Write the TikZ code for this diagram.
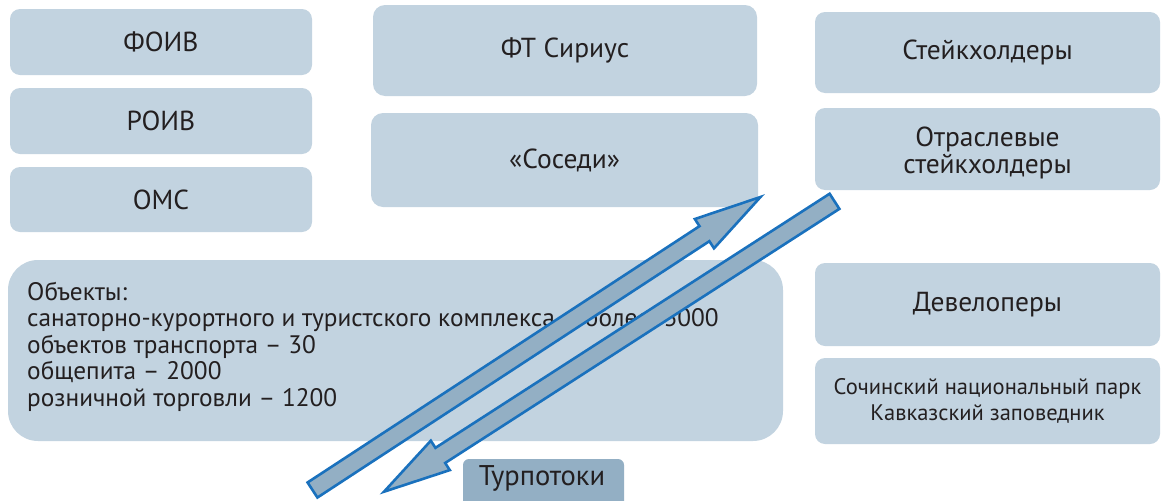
\documentclass[tikz,border=0pt]{standalone}
\usepackage{fontspec}
\setmainfont{PT Sans}
\usetikzlibrary{calc}
\definecolor{boxfill}{HTML}{C2D3E0}
\definecolor{darkfill}{HTML}{93AFC4}
\definecolor{txt}{HTML}{231F20}
\definecolor{arrline}{HTML}{1A71BD}
\tikzset{
  box/.style={fill=boxfill, draw=none, rounded corners=10pt, text=txt, align=center,
    font=\fontsize{27.5}{27}\selectfont, inner sep=0pt},
  smallbox/.style={box, font=\fontsize{22.5}{26}\selectfont},
  flowarr/.style={fill=darkfill, draw=arrline, line width=2.6pt, line join=miter},
}
\newcommand\flowarrow[2]{%
  \coordinate (hb) at ($(#2)!67pt!(#1)$);
  \draw[flowarr] ($(#1)!9pt!90:(#2)$) -- ($(hb)!9pt!90:(#2)$) -- ($(hb)!17.5pt!90:(#2)$)
    -- (#2) -- ($(hb)!17.5pt!-90:(#2)$) -- ($(hb)!9pt!-90:(#2)$) -- ($(#1)!9pt!-90:(#2)$) -- cycle;
}
\begin{document}
\begin{tikzpicture}[x=1pt,y=-1pt]
\useasboundingbox[fill=white] (0,0) rectangle (1163,501);
% left column
\node[box, minimum width=302pt, minimum height=66pt] (foiv) at (161,42) {ФОИВ};
\node[box, minimum width=302pt, minimum height=66pt] (roiv) at (161,121) {РОИВ};
\node[box, minimum width=302pt, minimum height=65pt] (oms) at (161,199.5) {ОМС};
% middle column
\node[box, rounded corners=12pt, minimum width=384pt, minimum height=91pt] (sirius) at (565,50.5) {ФТ Сириус};
\node[box, rounded corners=12pt, minimum width=387pt, minimum height=94pt] (sosedi) at (564.5,160) {«Соседи»};
% right column
\node[box, minimum width=345pt, minimum height=81pt] (stake) at (987.5,52.5) {Стейкхолдеры};
\node[box, minimum width=345pt, minimum height=82pt] (otrasl) at (987.5,149) {};
\node[box, fill=none, anchor=center] (otrasltext) at (987.5,153) {Отраслевые\\стейкхолдеры};
\node[box, minimum width=345pt, minimum height=83pt] (devel) at (987.5,304.5) {Девелоперы};
\node[smallbox, minimum width=345pt, minimum height=86pt] (park) at (987.5,401) {Сочинский национальный парк\\Кавказский заповедник};
% objects
\node[box, rounded corners=30pt, minimum width=775pt, minimum height=181pt] (obj) at (395.5,350.5) {};
\node[anchor=north west, text=txt, align=left, inner sep=0pt, font=\fontsize{25.3}{26.5}\selectfont] (objtext) at (27,281.5)
  {Объекты:\\санаторно-курортного и туристского комплекса – более \ 3000\\объектов транспорта – 30\\общепита – 2000\\розничной торговли – 1200};
% turpotoki
\node[box, fill=darkfill, rounded corners=6pt, minimum width=161pt, minimum height=50pt] (turp) at (543.5,484) {};
\node[text=txt, font=\fontsize{28.5}{28}\selectfont, inner sep=0pt] (turptext) at (542,478) {Турпотоки};
% flows
\coordinate (upTail) at (312.5,490);
\coordinate (upTip) at (760.5,197);
\coordinate (dnTail) at (834.5,201.3);
\coordinate (dnTip) at (384,491.7);
\flowarrow{upTail}{upTip}
\flowarrow{dnTail}{dnTip}
\end{tikzpicture}
\end{document}
